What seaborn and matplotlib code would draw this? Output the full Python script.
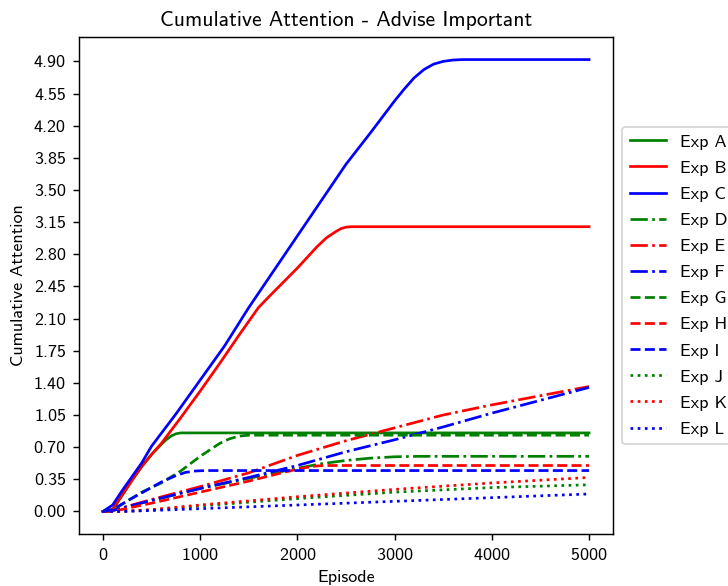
import matplotlib
matplotlib.use("Agg")
import matplotlib.pyplot as plt
import seaborn as sns
import pandas as pd

exp_a_x = [0, 100, 200, 300, 400, 500, 600, 650, 700, 750, 800, 5000]
exp_a_y = [0, 0.02, 0.18, 0.34, 0.49, 0.62, 0.73, 0.78, 0.82, 0.845, 0.855, 0.855]

exp_b_x = [0, 100, 200, 300, 400, 500, 600, 700, 800, 1000, 1200, 1400, 1600,
           1700, 2000, 2200, 2300, 2400, 2450, 2500, 2550, 5000]
exp_b_y = [0, 0.02, 0.18, 0.34, 0.49, 0.62, 0.74, 0.88, 1.02, 1.31, 1.61, 1.92, 2.22,
           2.33, 2.65, 2.88, 2.98, 3.05, 3.08, 3.095, 3.10, 3.10]

exp_c_x = [0, 100, 200, 300, 400, 500, 750, 1000, 1250, 1500, 2000, 2500, 2750,
           3000, 3100, 3200, 3300, 3400, 3500, 3600, 3700, 5000]
exp_c_y = [0, 0.07, 0.23, 0.38, 0.53, 0.71, 1.06, 1.43, 1.80, 2.22, 3.00, 3.78, 4.12,
           4.47, 4.60, 4.72, 4.81, 4.87, 4.90, 4.915, 4.92, 4.92]

exp_d_x = [0, 100, 500, 1000, 1500, 2000, 2250, 2500, 2750, 3000, 3250, 5000]
exp_d_y = [0, 0.01, 0.12, 0.25, 0.36, 0.47, 0.52, 0.555, 0.58, 0.595, 0.60, 0.60]

exp_e_x = [0, 100, 500, 1000, 1500, 2000, 2500, 3000, 3500, 4000, 4500, 5000]
exp_e_y = [0, 0.01, 0.13, 0.27, 0.42, 0.61, 0.77, 0.91, 1.05, 1.16, 1.26, 1.36]

exp_f_x = [0, 100, 500, 1000, 1500, 2000, 2500, 3000, 3500, 4000, 4500, 5000]
exp_f_y = [0, 0.01, 0.12, 0.25, 0.37, 0.50, 0.65, 0.78, 0.92, 1.07, 1.21, 1.35]

exp_g_x = [0, 100, 200, 400, 600, 800, 1000, 1100, 1200, 1300, 1400, 1500, 5000]
exp_g_y = [0, 0.01, 0.08, 0.21, 0.31, 0.44, 0.60, 0.67, 0.74, 0.79, 0.82, 0.83, 0.83]

exp_h_x = [0, 100, 500, 1000, 1500, 1800, 2000, 2100, 2200, 2300, 5000]
exp_h_y = [0, 0.0, 0.09, 0.21, 0.33, 0.41, 0.46, 0.48, 0.495, 0.50, 0.50]

exp_i_x = [0, 100, 260, 600, 750, 850, 950, 1050, 5000]
exp_i_y = [0, 0.02, 0.12, 0.32, 0.39, 0.425, 0.44, 0.445, 0.445]

dotted_x = [0, 200, 500, 1000, 2000, 3000, 4000, 5000]
exp_j_y = [0, 0, 0.015, 0.06, 0.14, 0.21, 0.26, 0.29]
exp_k_y = [0, 0, 0.02, 0.07, 0.16, 0.24, 0.31, 0.37]
exp_l_y = [0, 0, 0.01, 0.03, 0.07, 0.11, 0.15, 0.19]

labels = ["Exp A", "Exp B", "Exp C", "Exp D", "Exp E", "Exp F",
          "Exp G", "Exp H", "Exp I", "Exp J", "Exp K", "Exp L"]
series = [(exp_a_x, exp_a_y), (exp_b_x, exp_b_y), (exp_c_x, exp_c_y),
          (exp_d_x, exp_d_y), (exp_e_x, exp_e_y), (exp_f_x, exp_f_y),
          (exp_g_x, exp_g_y), (exp_h_x, exp_h_y), (exp_i_x, exp_i_y),
          (dotted_x, exp_j_y), (dotted_x, exp_k_y), (dotted_x, exp_l_y)]
yticks = [0.00, 0.35, 0.70, 1.05, 1.40, 1.75, 2.10, 2.45, 2.80,
          3.15, 3.50, 3.85, 4.20, 4.55, 4.90]
xticks = [0, 1000, 2000, 3000, 4000, 5000]

colors = ["green", "red", "blue"]
styles = ["-", "-.", "--", ":"]

plt.rcParams['font.family'] = ['cmss10', 'DejaVu Sans']
plt.rcParams['axes.formatter.use_mathtext'] = True

fig, ax = plt.subplots(figsize=(5.6, 586 / 130), dpi=130)
fig.subplots_adjust(left=0.108, right=0.8425, bottom=0.0887, top=0.9369)

for i, (lab, (xs, ys)) in enumerate(zip(labels, series)):
    df = pd.DataFrame({"Episode": xs, "Cumulative Attention": ys})
    sns.lineplot(data=df, x="Episode", y="Cumulative Attention", ax=ax,
                 color=colors[i % 3], linestyle=styles[i // 3],
                 linewidth=1.5, label=lab)

ax.set_yticks(yticks)
ax.set_yticklabels([f"{t:.2f}" for t in yticks])
ax.set_xticks(xticks)
ax.set_title("Cumulative Attention - Advise Important")
ax.set_xlabel("Episode")
ax.set_ylabel("Cumulative Attention")
ax.legend(loc="center left", bbox_to_anchor=(1.0, 0.5), labelspacing=0.58)

fig.savefig("out.png", dpi=130)
